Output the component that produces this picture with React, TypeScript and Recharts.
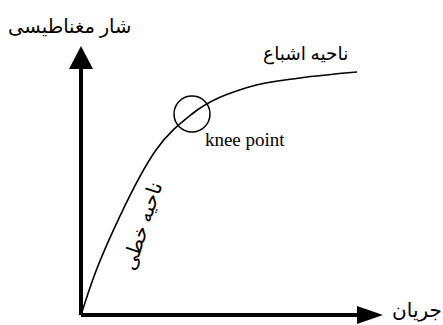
import React from 'react';
import { LineChart, Line, XAxis, YAxis, ReferenceLine, ReferenceDot } from 'recharts';

// magnetisation curve (current vs. flux, arbitrary units)
const current = [0, 4, 13, 25, 37, 56, 73, 92];
const flux = [0, 12, 33, 55, 67, 76, 79, 81];

const kneePoint = { x: 37, y: 67 };
const axisEnds = { x: 92, y: 82 };

const labels = [
  { text: 'شار مغناطیسی', x: -24.3, y: 94, size: 19.5, angle: 0 },
  { text: 'ناحیه اشباع', x: 60.7, y: 85, size: 18.5, angle: 0 },
  { text: 'knee point', x: 41.3, y: 56.3, size: 19, angle: 0 },
  { text: 'ناحیه خطی', x: 20.3, y: 29.7, size: 20, angle: -72 },
  { text: 'جریان', x: 103.7, y: -0.7, size: 20, angle: 0 },
];

const data = current.map((c, i) => ({ current: c, flux: flux[i] }));

const font = "'Liberation Serif', 'DejaVu Sans', serif";

const UpArrow = (p: any) => (
  <polygon points={`${p.cx},${p.cy - 23} ${p.cx - 12},${p.cy} ${p.cx + 12},${p.cy}`} fill="#000" />
);

const RightArrow = (p: any) => (
  <polygon points={`${p.cx},${p.cy - 9} ${p.cx + 26},${p.cy} ${p.cx},${p.cy + 9}`} fill="#000" />
);

const makeText = (l: any) => (p: any) => {
  if (l.angle) {
    return (
      <text
        x={p.cx}
        y={p.cy}
        fontSize={l.size}
        fontFamily={font}
        textAnchor="middle"
        dominantBaseline="central"
        transform={`rotate(${l.angle} ${p.cx} ${p.cy})`}
        fill="#000"
      >
        {l.text}
      </text>
    );
  }
  return (
    <text x={p.cx} y={p.cy} fontSize={l.size} fontFamily={font} textAnchor="start" fill="#000">
      {l.text}
    </text>
  );
};

export default function App() {
  return (
    <div style={{ position: 'absolute', left: 0, top: 0, width: 443, height: 325, background: '#fff' }}>
      <LineChart width={443} height={325} data={data} margin={{ top: 15, right: 62, bottom: 10, left: 81 }}>
        <XAxis dataKey="current" type="number" domain={[0, 100]} hide />
        <YAxis type="number" domain={[0, 100]} hide />

        {/* axes with arrow heads */}
        <ReferenceLine segment={[{ x: 0, y: 0 }, { x: 0, y: axisEnds.y }]} stroke="#000" strokeWidth={4} ifOverflow="visible" />
        <ReferenceLine segment={[{ x: 0, y: 0 }, { x: axisEnds.x, y: 0 }]} stroke="#000" strokeWidth={4} ifOverflow="visible" />
        <ReferenceDot x={0} y={axisEnds.y} r={0} shape={UpArrow} ifOverflow="visible" />
        <ReferenceDot x={axisEnds.x} y={0} r={0} shape={RightArrow} ifOverflow="visible" />

        <Line
          dataKey="flux"
          type="monotone"
          stroke="#000"
          strokeWidth={1.6}
          dot={false}
          isAnimationActive={false}
        />

        <ReferenceDot x={kneePoint.x} y={kneePoint.y} r={18} fill="none" stroke="#000" strokeWidth={1.5} ifOverflow="visible" />

        {labels.map((l, i) => (
          <ReferenceDot key={i} x={l.x} y={l.y} r={0} shape={makeText(l)} ifOverflow="visible" />
        ))}
      </LineChart>
    </div>
  );
}
